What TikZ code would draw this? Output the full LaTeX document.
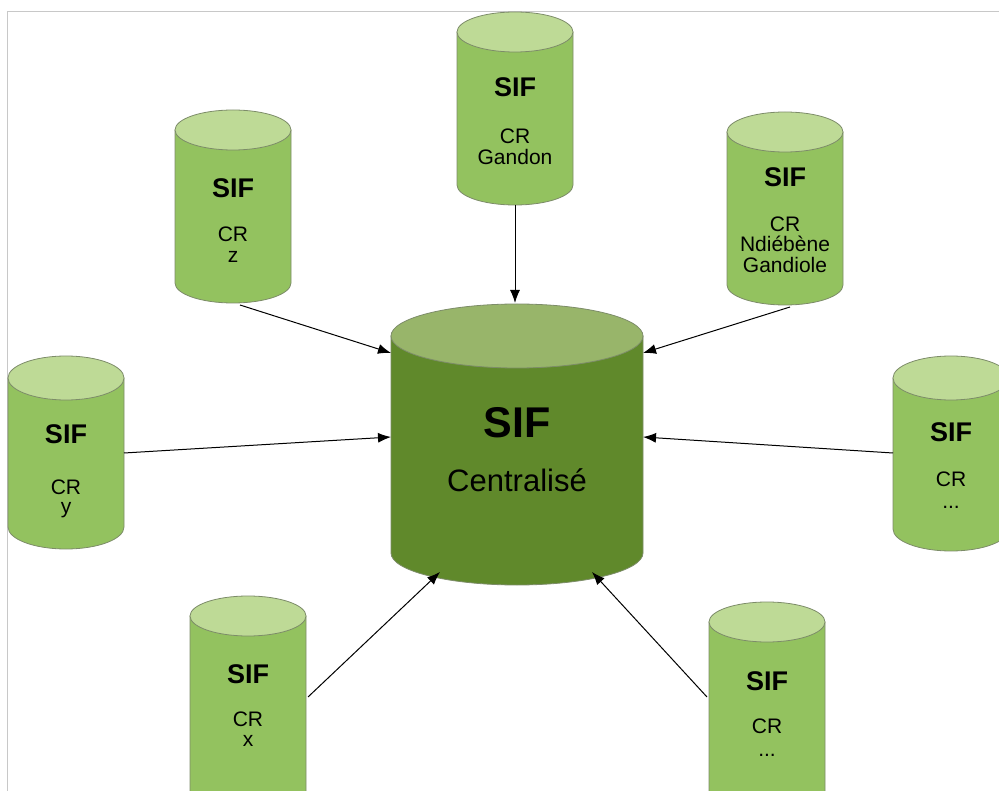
\documentclass[tikz,border=0pt]{standalone}
\usepackage{fontspec}
\setmainfont{Liberation Sans}
\usetikzlibrary{arrows.meta}

\definecolor{smallbody}{RGB}{147,194,95}
\definecolor{smalltop}{RGB}{190,218,150}
\definecolor{bigbody}{RGB}{96,137,43}
\definecolor{bigtop}{RGB}{152,181,106}
\definecolor{rim}{RGB}{125,140,105}
\definecolor{framegray}{RGB}{200,200,200}

\tikzset{
  drumline/.style={draw=rim, line width=0.8pt},
  title/.style={anchor=base, inner sep=0pt, font=\bfseries\fontsize{27}{27}\selectfont},
  caption/.style={anchor=base, inner sep=0pt, font=\fontsize{21}{21}\selectfont},
  bigtitle/.style={anchor=base, inner sep=0pt, font=\bfseries\fontsize{43}{43}\selectfont},
  bigcaption/.style={anchor=base, inner sep=0pt, font=\fontsize{31}{31}\selectfont},
  feed/.style={draw=black, line width=1pt, -{Latex[length=13pt,width=10pt]}},
}

% #1 name, #2 body colour, #3 lid colour, #4 centre x, #5 top edge, #6 bottom edge, #7 x radius, #8 y radius
\newcommand\drum[8]{%
  \path[fill=#2, drumline] (#4-#7,-#5-#8) -- (#4-#7,-#6+#8)
    arc[start angle=180, end angle=360, x radius=#7, y radius=#8] -- (#4+#7,-#5-#8) -- cycle;
  \path[fill=#3, drumline] (#4,-#5-#8) ellipse[x radius=#7, y radius=#8];
  \node[inner sep=0pt, minimum width=2*#7, minimum height=#6-#5] (#1) at (#4,{-(#5+#6)/2}) {};
}

\begin{document}
\begin{tikzpicture}[x=1pt, y=1pt]
  \useasboundingbox (0,0) rectangle (999,-791);
  \clip (0,0) rectangle (999,-791);

  % frame
  \draw[framegray, line width=1pt] (7,-830) -- (7,-12) -- (1040,-12);

  % central store
  \drum{central}{bigbody}{bigtop}{517}{304}{585}{126}{32}
  \node[bigtitle] (central-t) at (517,-438) {SIF};
  \node[bigcaption] (central-c) at (517,-492) {Centralisé};

  % local stores
  \drum{gandon}{smallbody}{smalltop}{515}{12}{205}{58}{20}
  \node[title] at (515,-97) {SIF};
  \node[caption] at (515,-144) {CR};
  \node[caption] at (515,-165) {Gandon};

  \drum{crz}{smallbody}{smalltop}{233}{110}{303}{58}{20}
  \node[title] at (233,-198) {SIF};
  \node[caption] at (233,-242) {CR};
  \node[caption] at (233,-263) {z};

  \drum{ndiebene}{smallbody}{smalltop}{785}{112}{305}{58}{20}
  \node[title] at (785,-187) {SIF};
  \node[caption] at (785,-232) {CR};
  \node[caption] at (785,-252) {Ndiébène};
  \node[caption] at (785,-273) {Gandiole};

  \drum{cry}{smallbody}{smalltop}{66}{356}{549}{58}{22}
  \node[title] at (66,-443) {SIF};
  \node[caption] at (66,-494) {CR};
  \node[caption] at (66,-513) {y};

  \drum{crright}{smallbody}{smalltop}{951}{356}{551}{58}{22}
  \node[title] at (951,-442) {SIF};
  \node[caption] at (951,-486) {CR};
  \node[caption] at (951,-508) {...};

  \drum{crx}{smallbody}{smalltop}{248}{596}{830}{58}{20}
  \node[title] at (248,-683) {SIF};
  \node[caption] at (248,-726) {CR};
  \node[caption] at (248,-746) {x};

  \drum{crbr}{smallbody}{smalltop}{767}{602}{830}{58}{20}
  \node[title] at (767,-690) {SIF};
  \node[caption] at (767,-733) {CR};
  \node[caption] at (767,-756) {...};

  % connector ends
  \coordinate (gandon-out) at (515,-205);
  \coordinate (crz-out) at (240,-305);
  \coordinate (ndiebene-out) at (790,-307);
  \coordinate (cry-out) at (124,-453);
  \coordinate (crright-out) at (893,-453);
  \coordinate (crx-out) at (308,-697);
  \coordinate (crbr-out) at (707,-697);

  \coordinate (central-top) at (515,-303);
  \coordinate (central-nw) at (391,-353);
  \coordinate (central-ne) at (643,-353);
  \coordinate (central-w) at (391,-437);
  \coordinate (central-e) at (643,-437);
  \coordinate (central-sw) at (440,-572);
  \coordinate (central-se) at (592,-572);

  \draw[feed] (gandon-out) -- (central-top);
  \draw[feed] (crz-out) -- (central-nw);
  \draw[feed] (ndiebene-out) -- (central-ne);
  \draw[feed] (cry-out) -- (central-w);
  \draw[feed] (crright-out) -- (central-e);
  \draw[feed] (crx-out) -- (central-sw);
  \draw[feed] (crbr-out) -- (central-se);
\end{tikzpicture}
\end{document}
